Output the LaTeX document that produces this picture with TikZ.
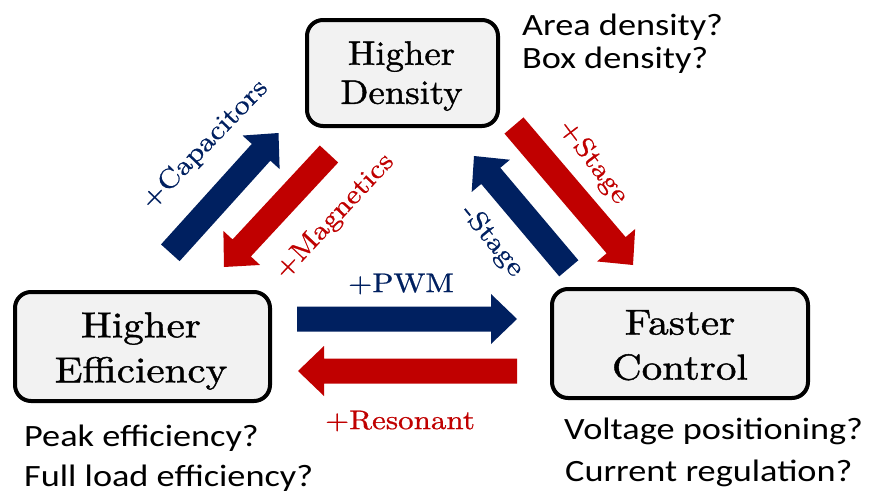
\documentclass[tikz,border=0pt]{standalone}
\usepackage{fontspec}
\usetikzlibrary{calc}
\newfontfamily\boxfont{lmroman10-regular.otf}[FakeStretch=1.14, FakeBold=1.2]
\newfontfamily\boxfontD{lmroman10-regular.otf}[FakeStretch=1.08, FakeBold=1.2]
\newfontfamily\lblfont{lmroman10-regular.otf}[FakeStretch=1.15, FakeBold=0.7]
\newfontfamily\sidefont{Carlito}[FakeStretch=1.17]
\definecolor{navy}{HTML}{002060}
\definecolor{crimson}{HTML}{C00000}
\definecolor{boxfill}{HTML}{F2F2F2}
\newcommand\blockarrow[3]{%
  \coordinate (bbase) at ($(#3)!26pt!(#2)$);
  \fill[#1] ($(#2)!12.5pt!90:(#3)$) -- ($(bbase)!12.5pt!90:(#3)$) -- ($(bbase)!25pt!90:(#3)$) -- (#3)
    -- ($(bbase)!25pt!-90:(#3)$) -- ($(bbase)!12.5pt!-90:(#3)$) -- ($(#2)!12.5pt!-90:(#3)$) -- cycle;
}
\tikzset{
  box/.style={draw=black, line width=4pt, rounded corners=16pt, fill=boxfill, inner sep=0pt},
  boxtxt/.style={align=center, inner sep=0pt, text=black},
  lbl/.style={inner sep=0pt, font=\lblfont\fontsize{27}{32}\selectfont},
  side/.style={inner sep=0pt, anchor=base west, font=\sidefont\fontsize{31}{37}\selectfont}
}
\begin{document}
\begin{tikzpicture}[x=1pt, y=-1pt]
\useasboundingbox (0,0) rectangle (871,498);
\fill[white] (0,0) rectangle (871,498);

% boxes
\node[box, minimum width=191pt, minimum height=106pt] (dens) at (402.5,73) {};
\node[box, minimum width=255pt, minimum height=109pt] (eff) at (142.5,346.5) {};
\node[box, minimum width=256pt, minimum height=109pt] (ctrl) at (680,343.5) {};

\node[boxtxt, font=\boxfontD\fontsize{34}{39}\selectfont] (densT) at ([shift={(-1pt,-3pt)}]dens.center) {Higher\\Density};
\node[boxtxt, font=\boxfont\fontsize{36}{45}\selectfont] (effT) at ([shift={(-1.5pt,-4.5pt)}]eff.center) {Higher\\Efficiency};
\node[boxtxt, font=\boxfont\fontsize{36}{45}\selectfont] (ctrlT) at ([shift={(0pt,-1.7pt)}]ctrl.center) {Faster\\Control};

% arrow end points
\coordinate (capT) at (170.3,252.8);
\coordinate (capH) at (278.5,133);
\coordinate (magT) at (329,154);
\coordinate (magH) at (224,267);
\coordinate (stgT) at (514,125.5);
\coordinate (stgH) at (633,265);
\coordinate (mstT) at (568.8,268.3);
\coordinate (mstH) at (474,156);
\coordinate (pwmT) at (297,319);
\coordinate (pwmH) at (517,319);
\coordinate (resT) at (517,371);
\coordinate (resH) at (298,371);

\blockarrow{navy}{capT}{capH}
\blockarrow{crimson}{magT}{magH}
\blockarrow{crimson}{stgT}{stgH}
\blockarrow{navy}{mstT}{mstH}
\blockarrow{navy}{pwmT}{pwmH}
\blockarrow{crimson}{resT}{resH}

% arrow labels
\node[lbl, text=navy, rotate=46] (capL) at (205,145) {+Capacitors};
\node[lbl, text=crimson, rotate=47] (magL) at (335,217) {+Magnetics};
\node[lbl, text=crimson, rotate=-53] (stgL) at (593,162) {+Stage};
\node[lbl, text=navy, rotate=-51] (mstL) at (492,241) {-Stage};
\node[lbl, text=navy] (pwmL) at (401,284) {+PWM};
\node[lbl, text=crimson] (resL) at (400,421) {+Resonant};

% side notes
\node[side] (area) at (522,35) {Area density?};
\node[side] (boxd) at (522,68.3) {Box density?};
\node[side] (peak) at (24,446.7) {Peak efficiency?};
\node[side] (full) at (24,486) {Full load efficiency?};
\node[side] (volt) at (564,439) {Voltage positioning?};
\node[side] (curr) at (565,481.7) {Current regulation?};
\end{tikzpicture}
\end{document}
